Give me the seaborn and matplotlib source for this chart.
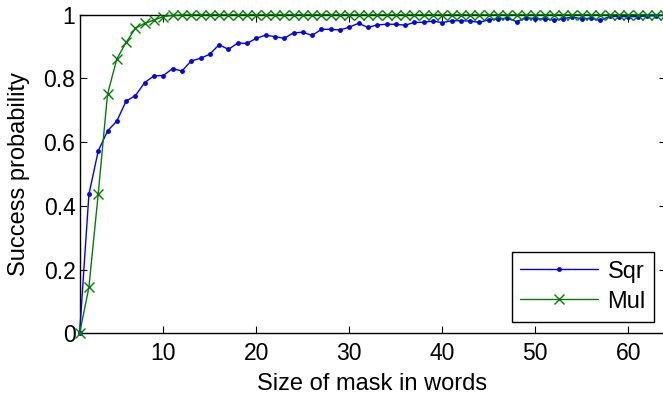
import numpy as np
import pandas as pd
import matplotlib
matplotlib.use("Agg")
import matplotlib.pyplot as plt
import seaborn as sns
from matplotlib.lines import Line2D

mask_sizes = list(range(1, 65))
sqr_values = [0.000, 0.436, 0.572, 0.635, 0.666, 0.729, 0.746, 0.787, 0.808, 0.809,
              0.831, 0.823, 0.855, 0.863, 0.876, 0.906, 0.891, 0.911, 0.910, 0.926,
              0.936, 0.931, 0.926, 0.943, 0.945, 0.935, 0.954, 0.954, 0.952, 0.961,
              0.973, 0.960, 0.968, 0.970, 0.970, 0.967, 0.976, 0.976, 0.980, 0.975,
              0.981, 0.981, 0.980, 0.976, 0.984, 0.987, 0.989, 0.978, 0.991, 0.987,
              0.987, 0.983, 0.987, 0.993, 0.987, 0.989, 0.982, 0.995, 0.994, 0.994,
              0.994, 0.996, 0.997, 0.998]
mul_values = [0.000, 0.144, 0.437, 0.750, 0.861, 0.913, 0.957, 0.973, 0.983, 0.994,
              0.998, 0.999, 1.000, 1.000, 1.000, 1.000, 1.000, 1.000, 1.000, 1.000,
              1.000, 1.000, 1.000, 1.000, 1.000, 1.000, 1.000, 1.000, 1.000, 1.000,
              1.000, 1.000, 1.000, 1.000, 1.000, 1.000, 1.000, 1.000, 1.000, 1.000,
              1.000, 1.000, 1.000, 1.000, 1.000, 1.000, 1.000, 1.000, 1.000, 1.000,
              1.000, 1.000, 1.000, 1.000, 1.000, 1.000, 1.000, 1.000, 1.000, 1.000,
              1.000, 1.000, 1.000, 1.000]
series_names = ["Sqr", "Mul"]
x_ticks = [10, 20, 30, 40, 50, 60]
y_ticks = [0, 0.2, 0.4, 0.6, 0.8, 1]
y_tick_labels = ["0", "0.2", "0.4", "0.6", "0.8", "1"]

sns.set_style("ticks")
plt.rcParams["font.family"] = ["Liberation Sans", "DejaVu Sans"]
plt.rcParams["xtick.direction"] = "in"
plt.rcParams["ytick.direction"] = "in"
plt.rcParams["text.color"] = "black"
plt.rcParams["axes.labelcolor"] = "black"
plt.rcParams["xtick.color"] = "black"
plt.rcParams["ytick.color"] = "black"

W, H = 663, 397
fig = plt.figure(figsize=(W / 100, H / 100), dpi=100)
left, right, bottom, top = 79.6, 665.5, 333.3, 14.7
ax = fig.add_axes([left / W, 1 - bottom / H, (right - left) / W, (bottom - top) / H])

sns.lineplot(x=mask_sizes, y=sqr_values, color="#0000ff", marker="o",
             markersize=3.5, markeredgewidth=0, linewidth=1.0, ax=ax, clip_on=False)
sns.lineplot(x=mask_sizes, y=mul_values, color="#008000", marker="x",
             markersize=7.5, markeredgewidth=1.0, markeredgecolor="#008000",
             linewidth=1.0, ax=ax, clip_on=False)

ax.set_xlim(1, 64)
ax.set_ylim(0, 1)
ax.set_xticks(x_ticks)
ax.set_yticks(y_ticks)
ax.set_yticklabels(y_tick_labels)
ax.tick_params(axis="both", labelsize=16.5, length=5, width=0.8, top=True, right=True,
               labelcolor="black", color="black")
ax.tick_params(axis="x", pad=6)
ax.tick_params(axis="y", pad=3)
for s in ax.spines.values():
    s.set_visible(True)
    s.set_linewidth(1.0)
    s.set_color("black")
    s.set_zorder(0.5)
ax.set_xlabel("Size of mask in words", fontsize=17, labelpad=6)
ax.set_ylabel("Success probability", fontsize=17, labelpad=10)

handles = [Line2D([], [], color="#0000ff", marker="o", markersize=3.5, markeredgewidth=0, lw=1.0),
           Line2D([], [], color="#008000", marker="x", markersize=7, lw=1.0)]
leg = ax.legend(handles, series_names, loc="lower right",
                bbox_to_anchor=((654 - left) / (right - left), (333.3 - 321.7) / (bottom - top)),
                fontsize=17, frameon=True, fancybox=False, edgecolor="black", framealpha=1,
                handlelength=3.3, borderpad=0.35, labelspacing=0.3, handletextpad=0.4,
                borderaxespad=0, handleheight=0.9)
leg.get_frame().set_linewidth(1.0)
for t in leg.get_texts():
    t.set_color("black")

fig.savefig("out.png", dpi=100)
